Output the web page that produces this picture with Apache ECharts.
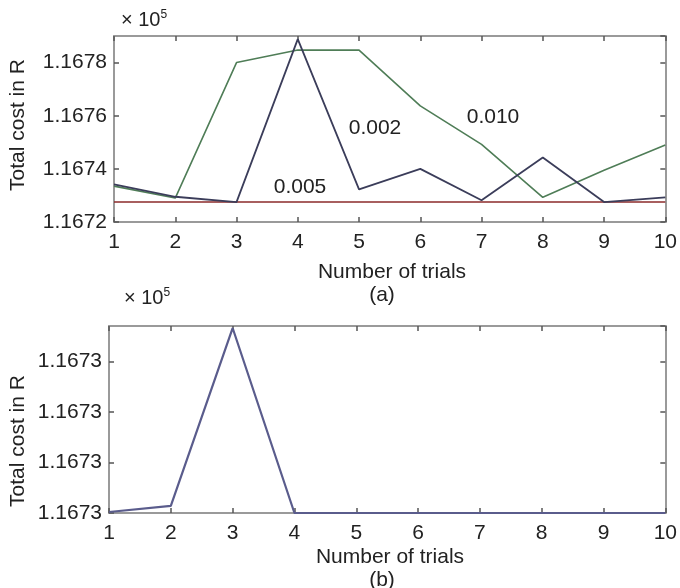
<!DOCTYPE html>
<html>
<head>
<meta charset="utf-8">
<script src="https://cdn.jsdelivr.net/npm/echarts@6/dist/echarts.min.js"></script>
<style>
html,body{margin:0;padding:0;background:#fff;}
#main{width:680px;height:588px;}
</style>
</head>
<body>
<div id="main"></div>
<script>
// trials on the x axis
var trials=[1,2,3,4,5,6,7,8,9,10];
// panel (a): total cost (x10^5) per step size
var costA005=[1.167275,1.167275,1.167275,1.167275,1.167275,1.167275,1.167275,1.167275,1.167275,1.167275];
var costA002=[1.167342,1.167295,1.167275,1.167888,1.167323,1.167400,1.167282,1.167443,1.167275,1.167293];
var costA010=[1.167335,1.167290,1.167800,1.167847,1.167847,1.167637,1.167492,1.167293,1.167395,1.167490];
// panel (b): total cost (x10^5)
var costB=[1.16729602,1.16729614,1.16729966,1.16729600,1.16729600,1.16729600,1.16729600,1.16729600,1.16729600,1.16729600];
// series labels in panel (a)
var labelsA=['0.005','0.002','0.010'];

function pairs(ys){
    var out=[];
    for(var i=0;i<trials.length;i++){
        out.push([trials[i],ys[i]]);
    }
    return out;
}

var font='"Liberation Sans", Arial, sans-serif';
var frameCol='#9a9a9a';
var tickCol='#555';

function xAxes(gi){
    var base={
        gridIndex:gi,type:'value',min:1,max:10,interval:1,
        axisLine:{show:true,lineStyle:{color:frameCol,width:2}},
        axisTick:{show:true,inside:true,length:5,lineStyle:{color:tickCol,width:1.5}},
        splitLine:{show:false}
    };
    return [
        Object.assign({},base,{position:'bottom',
            axisLabel:{show:true,color:'#222',fontSize:21,fontFamily:font,margin:10,showMinLabel:true,showMaxLabel:true}}),
        Object.assign({},base,{position:'top',axisLabel:{show:false}})
    ];
}
function yAxes(gi,min,max,interval,dec){
    var base={
        gridIndex:gi,type:'value',min:min,max:max,interval:interval,
        axisLine:{show:true,lineStyle:{color:frameCol,width:2}},
        axisTick:{show:true,inside:true,length:5,lineStyle:{color:tickCol,width:1.5}},
        splitLine:{show:false}
    };
    return [
        Object.assign({},base,{position:'left',
            axisLabel:{show:true,color:'#222',fontSize:21,fontFamily:font,margin:7,showMaxLabel:false,
                formatter:function(v){return v.toFixed(dec);}}}),
        Object.assign({},base,{position:'right',axisLabel:{show:false}})
    ];
}

var xs=xAxes(0).concat(xAxes(1));
var ys=yAxes(0,1.1672,1.1679,0.0002,4).concat(yAxes(1,1.167296,1.1672997,0.000001,4));

function txt(x,y,s,extra){
    return Object.assign({type:'text',x:x,y:y,style:{text:s,fill:'#222',font:'21px '+font,textAlign:'center',textVerticalAlign:'middle'}},extra||{});
}
function times10(x,y){
    return {type:'text',x:x,y:y,style:{
        text:'\u00d7 10{s|5}',fill:'#222',font:'20px '+font,textVerticalAlign:'middle',
        rich:{s:{fontSize:12,fontFamily:font,verticalAlign:'top',padding:[0,0,10,0]}}
    }};
}

var option={
    animation:false,
    backgroundColor:'#fff',
    grid:[
        {left:114,top:36,right:9,height:186},
        {left:109,top:326,right:9,height:187}
    ],
    xAxis:xs,
    yAxis:ys,
    series:[
        {name:labelsA[0],type:'line',xAxisIndex:0,yAxisIndex:0,data:pairs(costA005),symbol:'none',
            lineStyle:{color:'#8c2b2b',width:1.6}},
        {name:labelsA[2],type:'line',xAxisIndex:0,yAxisIndex:0,data:pairs(costA010),symbol:'none',
            lineStyle:{color:'#4f7d57',width:1.6}},
        {name:labelsA[1],type:'line',xAxisIndex:0,yAxisIndex:0,data:pairs(costA002),symbol:'none',
            lineStyle:{color:'#3b3d5a',width:1.8}},
        {name:'b',type:'line',xAxisIndex:2,yAxisIndex:2,data:pairs(costB),symbol:'none',
            lineStyle:{color:'#5a5c8c',width:2.2}}
    ],
    graphic:[
        times10(121,20),
        times10(124,298),
        txt(18,125,'Total cost in R',{rotation:Math.PI/2}),
        txt(18,441,'Total cost in R',{rotation:Math.PI/2}),
        txt(392,272,'Number of trials'),
        txt(382,295,'(a)'),
        txt(390,557,'Number of trials'),
        txt(382,580,'(b)'),
        txt(300,187,labelsA[0]),
        txt(375,128,labelsA[1]),
        txt(493,117,labelsA[2])
    ]
};

var chart=echarts.init(document.getElementById('main'));
chart.setOption(option);
</script>
</body>
</html>
